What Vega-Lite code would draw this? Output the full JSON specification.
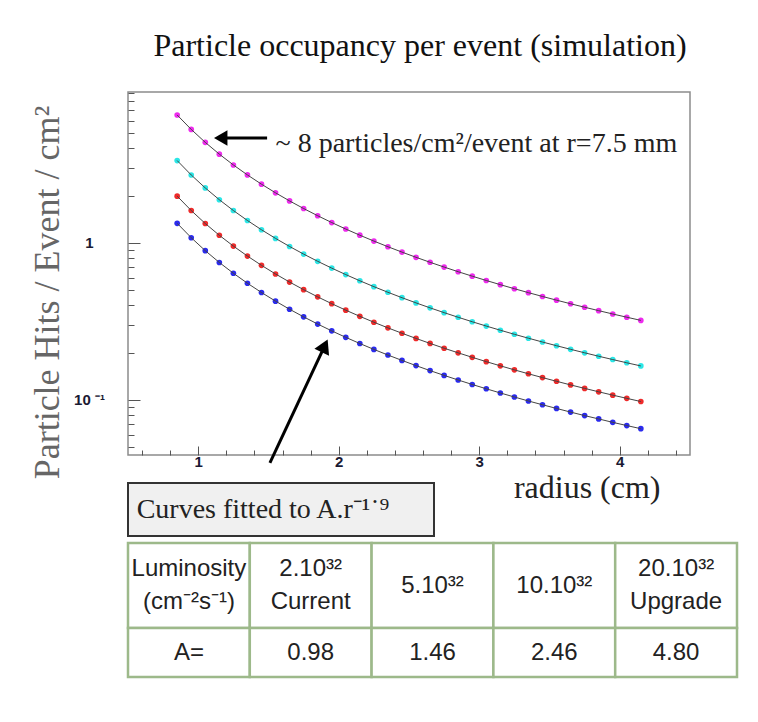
{
  "$schema": "https://vega.github.io/schema/vega-lite/v6.json",
  "padding": {"left": 28, "top": 29, "right": 5, "bottom": 5},
  "background": "white",
  "config": {"font": "Liberation Sans"},
  "bounds": "flush",
  "spacing": 28,
  "datasets": {
    "pts": [
      {"r":0.85,"v":1.3346,"s":"0.98"},{"r":0.95,"v":1.0804,"s":"0.98"},{"r":1.05,"v":0.8932,"s":"0.98"},{"r":1.15,"v":0.7515,"s":"0.98"},{"r":1.25,"v":0.6414,"s":"0.98"},{"r":1.35,"v":0.5541,"s":"0.98"},{"r":1.45,"v":0.4838,"s":"0.98"},{"r":1.55,"v":0.4262,"s":"0.98"},{"r":1.65,"v":0.3784,"s":"0.98"},{"r":1.75,"v":0.3384,"s":"0.98"},{"r":1.85,"v":0.3045,"s":"0.98"},{"r":1.95,"v":0.2755,"s":"0.98"},{"r":2.05,"v":0.2505,"s":"0.98"},{"r":2.15,"v":0.2289,"s":"0.98"},{"r":2.25,"v":0.2099,"s":"0.98"},{"r":2.35,"v":0.1933,"s":"0.98"},{"r":2.45,"v":0.1786,"s":"0.98"},{"r":2.55,"v":0.1655,"s":"0.98"},{"r":2.65,"v":0.1538,"s":"0.98"},{"r":2.75,"v":0.1434,"s":"0.98"},{"r":2.85,"v":0.1340,"s":"0.98"},{"r":2.95,"v":0.1255,"s":"0.98"},{"r":3.05,"v":0.1178,"s":"0.98"},{"r":3.15,"v":0.1108,"s":"0.98"},{"r":3.25,"v":0.1044,"s":"0.98"},{"r":3.35,"v":0.0985,"s":"0.98"},{"r":3.45,"v":0.0932,"s":"0.98"},{"r":3.55,"v":0.0883,"s":"0.98"},{"r":3.65,"v":0.0837,"s":"0.98"},{"r":3.75,"v":0.0795,"s":"0.98"},{"r":3.85,"v":0.0757,"s":"0.98"},{"r":3.95,"v":0.0720,"s":"0.98"},{"r":4.05,"v":0.0687,"s":"0.98"},{"r":4.15,"v":0.0656,"s":"0.98"},
      {"r":0.85,"v":1.9882,"s":"1.46"},{"r":0.95,"v":1.6095,"s":"1.46"},{"r":1.05,"v":1.3307,"s":"1.46"},{"r":1.15,"v":1.1195,"s":"1.46"},{"r":1.25,"v":0.9555,"s":"1.46"},{"r":1.35,"v":0.8255,"s":"1.46"},{"r":1.45,"v":0.7207,"s":"1.46"},{"r":1.55,"v":0.6349,"s":"1.46"},{"r":1.65,"v":0.5638,"s":"1.46"},{"r":1.75,"v":0.5042,"s":"1.46"},{"r":1.85,"v":0.4537,"s":"1.46"},{"r":1.95,"v":0.4105,"s":"1.46"},{"r":2.05,"v":0.3732,"s":"1.46"},{"r":2.15,"v":0.3410,"s":"1.46"},{"r":2.25,"v":0.3127,"s":"1.46"},{"r":2.35,"v":0.2879,"s":"1.46"},{"r":2.45,"v":0.2660,"s":"1.46"},{"r":2.55,"v":0.2466,"s":"1.46"},{"r":2.65,"v":0.2292,"s":"1.46"},{"r":2.75,"v":0.2136,"s":"1.46"},{"r":2.85,"v":0.1996,"s":"1.46"},{"r":2.95,"v":0.1869,"s":"1.46"},{"r":3.05,"v":0.1754,"s":"1.46"},{"r":3.15,"v":0.1650,"s":"1.46"},{"r":3.25,"v":0.1555,"s":"1.46"},{"r":3.35,"v":0.1468,"s":"1.46"},{"r":3.45,"v":0.1388,"s":"1.46"},{"r":3.55,"v":0.1315,"s":"1.46"},{"r":3.65,"v":0.1247,"s":"1.46"},{"r":3.75,"v":0.1185,"s":"1.46"},{"r":3.85,"v":0.1127,"s":"1.46"},{"r":3.95,"v":0.1073,"s":"1.46"},{"r":4.05,"v":0.1024,"s":"1.46"},{"r":4.15,"v":0.0977,"s":"1.46"},
      {"r":0.85,"v":3.3500,"s":"2.46"},{"r":0.95,"v":2.7119,"s":"2.46"},{"r":1.05,"v":2.2422,"s":"2.46"},{"r":1.15,"v":1.8863,"s":"2.46"},{"r":1.25,"v":1.6099,"s":"2.46"},{"r":1.35,"v":1.3909,"s":"2.46"},{"r":1.45,"v":1.2143,"s":"2.46"},{"r":1.55,"v":1.0698,"s":"2.46"},{"r":1.65,"v":0.9500,"s":"2.46"},{"r":1.75,"v":0.8495,"s":"2.46"},{"r":1.85,"v":0.7644,"s":"2.46"},{"r":1.95,"v":0.6917,"s":"2.46"},{"r":2.05,"v":0.6289,"s":"2.46"},{"r":2.15,"v":0.5745,"s":"2.46"},{"r":2.25,"v":0.5270,"s":"2.46"},{"r":2.35,"v":0.4852,"s":"2.46"},{"r":2.45,"v":0.4482,"s":"2.46"},{"r":2.55,"v":0.4154,"s":"2.46"},{"r":2.65,"v":0.3861,"s":"2.46"},{"r":2.75,"v":0.3599,"s":"2.46"},{"r":2.85,"v":0.3363,"s":"2.46"},{"r":2.95,"v":0.3150,"s":"2.46"},{"r":3.05,"v":0.2956,"s":"2.46"},{"r":3.15,"v":0.2781,"s":"2.46"},{"r":3.25,"v":0.2620,"s":"2.46"},{"r":3.35,"v":0.2474,"s":"2.46"},{"r":3.45,"v":0.2339,"s":"2.46"},{"r":3.55,"v":0.2216,"s":"2.46"},{"r":3.65,"v":0.2102,"s":"2.46"},{"r":3.75,"v":0.1997,"s":"2.46"},{"r":3.85,"v":0.1899,"s":"2.46"},{"r":3.95,"v":0.1809,"s":"2.46"},{"r":4.05,"v":0.1725,"s":"2.46"},{"r":4.15,"v":0.1647,"s":"2.46"},
      {"r":0.85,"v":6.5366,"s":"4.80"},{"r":0.95,"v":5.2915,"s":"4.80"},{"r":1.05,"v":4.3751,"s":"4.80"},{"r":1.15,"v":3.6806,"s":"4.80"},{"r":1.25,"v":3.1413,"s":"4.80"},{"r":1.35,"v":2.7140,"s":"4.80"},{"r":1.45,"v":2.3694,"s":"4.80"},{"r":1.55,"v":2.0875,"s":"4.80"},{"r":1.65,"v":1.8536,"s":"4.80"},{"r":1.75,"v":1.6576,"s":"4.80"},{"r":1.85,"v":1.4915,"s":"4.80"},{"r":1.95,"v":1.3496,"s":"4.80"},{"r":2.05,"v":1.2271,"s":"4.80"},{"r":2.15,"v":1.1210,"s":"4.80"},{"r":2.25,"v":1.0282,"s":"4.80"},{"r":2.35,"v":0.9467,"s":"4.80"},{"r":2.45,"v":0.8746,"s":"4.80"},{"r":2.55,"v":0.8106,"s":"4.80"},{"r":2.65,"v":0.7535,"s":"4.80"},{"r":2.75,"v":0.7022,"s":"4.80"},{"r":2.85,"v":0.6562,"s":"4.80"},{"r":2.95,"v":0.6145,"s":"4.80"},{"r":3.05,"v":0.5768,"s":"4.80"},{"r":3.15,"v":0.5425,"s":"4.80"},{"r":3.25,"v":0.5113,"s":"4.80"},{"r":3.35,"v":0.4826,"s":"4.80"},{"r":3.45,"v":0.4564,"s":"4.80"},{"r":3.55,"v":0.4323,"s":"4.80"},{"r":3.65,"v":0.4101,"s":"4.80"},{"r":3.75,"v":0.3896,"s":"4.80"},{"r":3.85,"v":0.3706,"s":"4.80"},{"r":3.95,"v":0.3529,"s":"4.80"},{"r":4.05,"v":0.3366,"s":"4.80"},{"r":4.15,"v":0.3213,"s":"4.80"}
    ],
    "arrows": [
      {"r": 1.49, "v": 4.66, "r2": 1.16, "v2": 4.66},
      {"r": 1.51, "v": 0.0397, "r2": 1.90, "v2": 0.221}
    ],
    "note": [{"r": 1.55, "v": 3.8, "t": "~ 8 particles/cm²/event at r=7.5 mm"}],
    "tbl": [
      {"row": "h", "col": "c0", "t1": "Luminosity", "t2": "(cm⁻²s⁻¹)"},
      {"row": "h", "col": "c1", "t1": "2.10³²", "t2": "Current"},
      {"row": "h", "col": "c2", "t1": "5.10³²"},
      {"row": "h", "col": "c3", "t1": "10.10³²"},
      {"row": "h", "col": "c4", "t1": "20.10³²", "t2": "Upgrade"},
      {"row": "a", "col": "c0", "t1": "A="},
      {"row": "a", "col": "c1", "t1": "0.98"},
      {"row": "a", "col": "c2", "t1": "1.46"},
      {"row": "a", "col": "c3", "t1": "2.46"},
      {"row": "a", "col": "c4", "t1": "4.80"}
    ]
  },
  "vconcat": [
    {
      "width": 562,
      "height": 363,
      "title": {"text": "Particle occupancy per event (simulation)", "font": "Liberation Serif", "fontSize": 32, "fontWeight": "normal", "color": "#111", "offset": 29, "dx": 11},
      "view": {"stroke": "#8c8c8c", "strokeWidth": 1.5},
      "resolve": {"axis": {"x": "independent", "y": "independent"}},
      "layer": [
        {
          "data": {"name": "pts"},
          "mark": {"type": "circle", "size": 32, "opacity": 1, "clip": false},
          "encoding": {
            "x": {"field": "r", "type": "quantitative",
              "scale": {"domain": [0.5, 4.5], "nice": false, "zero": false},
              "axis": {"orient": "bottom", "title": "radius (cm)", "values": [1, 2, 3, 4], "format": "d",
                "labelOverlap": false, "labelBound": false, "labelFlush": false,
                "domain": false, "grid": false, "tickColor": "#555", "tickWidth": 1, "tickSize": -9,
                "labelPadding": 8, "labelFont": "Liberation Sans", "labelFontWeight": "bold", "labelFontSize": 15, "labelColor": "#1a1a33",
                "titleFont": "Liberation Serif", "titleFontSize": 32, "titleFontWeight": "normal", "titleColor": "#222",
                "titleX": 532, "titleY": 42, "titleAlign": "right", "titleBaseline": "alphabetic"}},
            "y": {"field": "v", "type": "quantitative",
              "scale": {"type": "log", "domain": [0.0446, 9.16], "nice": false},
              "axis": {"orient": "left", "title": "Particle Hits / Event / cm²", "values": [0.1, 1],
                "labelExpr": "datum.value == 1 ? '1' : '10 ⁻¹'",
                "labelOverlap": false, "labelBound": false, "labelFlush": false,
                "domain": false, "grid": false, "tickColor": "#555", "tickWidth": 1, "tickSize": -12,
                "labelPadding": 51, "labelAlign": "center", "labelBaseline": "middle",
                "labelFont": "Liberation Sans", "labelFontWeight": "bold", "labelFontSize": 15, "labelColor": "#1a1a33",
                "titleFont": "Liberation Serif", "titleFontSize": 36, "titleFontWeight": "normal", "titleColor": "#666",
                "titleX": -81, "titleY": 200, "titleAlign": "center", "titleBaseline": "middle", "titleAngle": -90}},
            "color": {"field": "s", "type": "nominal",
              "scale": {"domain": ["0.98", "1.46", "2.46", "4.80"], "range": ["#2a2aee", "#ee2a2a", "#2ae6e6", "#ee2aee"]},
              "legend": null}
          }
        },
        {
          "data": {"name": "pts"},
          "mark": {"type": "line", "color": "#444", "strokeWidth": 1},
          "encoding": {
            "x": {"field": "r", "type": "quantitative",
              "axis": {"orient": "bottom", "title": null, "labels": false, "domain": false, "grid": false,
                "values": [0.6,0.8,1.2,1.4,1.6,1.8,2.2,2.4,2.6,2.8,3.2,3.4,3.6,3.8,4.2,4.4],
                "tickColor": "#555", "tickWidth": 1, "tickSize": -5}},
            "y": {"field": "v", "type": "quantitative",
              "axis": {"orient": "left", "title": null, "labels": false, "domain": false, "grid": false,
                "values": [0.05,0.06,0.07,0.08,0.09,0.2,0.3,0.4,0.5,0.6,0.7,0.8,0.9,2,3,4,5,6,7,8,9],
                "tickColor": "#555", "tickWidth": 1, "tickSize": -6}},
            "detail": {"field": "s", "type": "nominal"}
          }
        },
        {
          "data": {"name": "arrows"},
          "mark": {"type": "rule", "color": "#000", "strokeWidth": 3, "clip": false},
          "encoding": {
            "x": {"field": "r", "type": "quantitative", "axis": null},
            "y": {"field": "v", "type": "quantitative", "axis": null},
            "x2": {"field": "r2"},
            "y2": {"field": "v2"}
          }
        },
        {
          "data": {"values": [{"r": 1.16, "v": 4.66}]},
          "mark": {"type": "point", "shape": "triangle-left", "size": 240, "filled": true, "color": "#000", "opacity": 1},
          "encoding": {
            "x": {"field": "r", "type": "quantitative", "axis": null},
            "y": {"field": "v", "type": "quantitative", "axis": null}
          }
        },
        {
          "data": {"values": [{"r": 1.90, "v": 0.221}]},
          "mark": {"type": "point", "shape": "triangle-up", "angle": 25, "size": 260, "filled": true, "color": "#000", "opacity": 1},
          "encoding": {
            "x": {"field": "r", "type": "quantitative", "axis": null},
            "y": {"field": "v", "type": "quantitative", "axis": null}
          }
        },
        {
          "data": {"name": "note"},
          "mark": {"type": "text", "align": "left", "baseline": "alphabetic", "font": "Liberation Serif", "fontSize": 28, "color": "#222"},
          "encoding": {
            "x": {"field": "r", "type": "quantitative", "axis": null},
            "y": {"field": "v", "type": "quantitative", "axis": null},
            "text": {"field": "t"}
          }
        }
      ]
    },
    {
      "bounds": "flush",
      "spacing": 7,
      "vconcat": [
        {
          "width": 306,
          "height": 53,
          "view": {"stroke": "#333", "strokeWidth": 2, "fill": "#f0f0f0"},
          "data": {"values": [{"t": "Curves fitted to A.r⁻¹˙⁹"}]},
          "mark": {"type": "text", "font": "Liberation Serif", "fontSize": 28, "color": "#222", "baseline": "middle", "dx": -18},
          "encoding": {"text": {"field": "t"}}
        },
        {
          "bounds": "flush",
          "spacing": 0,
          "vconcat": [
            {
              "width": 609,
              "height": 85,
              "view": {"stroke": null},
              "data": {"name": "tbl"},
              "transform": [{"filter": "datum.row == 'h'"}],
              "layer": [
                {
                  "mark": {"type": "rect", "fill": "white", "stroke": "#9db98a", "strokeWidth": 2.5},
                  "encoding": {
                    "x": {"field": "col", "type": "nominal", "scale": {"type": "band", "domain": ["c0","c1","c2","c3","c4"], "paddingInner": 0, "paddingOuter": 0}, "axis": null}
                  }
                },
                {
                  "transform": [{"filter": "datum.t2 != null"}],
                  "mark": {"type": "text", "font": "Liberation Sans", "fontSize": 24, "color": "#222", "baseline": "middle", "dy": -17},
                  "encoding": {
                    "x": {"field": "col", "type": "nominal"},
                    "text": {"field": "t1"}
                  }
                },
                {
                  "transform": [{"filter": "datum.t2 != null"}],
                  "mark": {"type": "text", "font": "Liberation Sans", "fontSize": 24, "color": "#222", "baseline": "middle", "dy": 16},
                  "encoding": {
                    "x": {"field": "col", "type": "nominal"},
                    "text": {"field": "t2"}
                  }
                },
                {
                  "transform": [{"filter": "datum.t2 == null"}],
                  "mark": {"type": "text", "font": "Liberation Sans", "fontSize": 24, "color": "#222", "baseline": "middle"},
                  "encoding": {
                    "x": {"field": "col", "type": "nominal"},
                    "text": {"field": "t1"}
                  }
                }
              ]
            },
            {
              "width": 609,
              "height": 49,
              "view": {"stroke": null},
              "data": {"name": "tbl"},
              "transform": [{"filter": "datum.row == 'a'"}],
              "layer": [
                {
                  "mark": {"type": "rect", "fill": "white", "stroke": "#9db98a", "strokeWidth": 2.5},
                  "encoding": {
                    "x": {"field": "col", "type": "nominal", "scale": {"type": "band", "domain": ["c0","c1","c2","c3","c4"], "paddingInner": 0, "paddingOuter": 0}, "axis": null}
                  }
                },
                {
                  "mark": {"type": "text", "font": "Liberation Sans", "fontSize": 24, "color": "#222", "baseline": "middle"},
                  "encoding": {
                    "x": {"field": "col", "type": "nominal"},
                    "text": {"field": "t1"}
                  }
                }
              ]
            }
          ]
        }
      ]
    }
  ]
}
